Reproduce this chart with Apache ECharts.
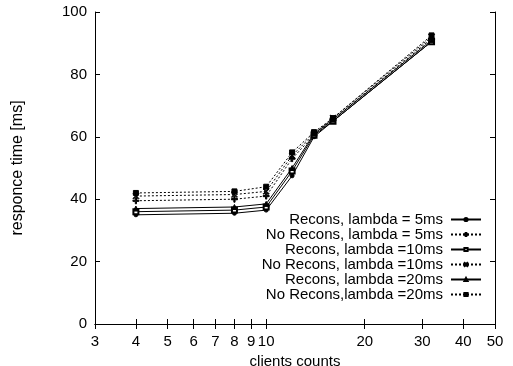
<!DOCTYPE html>
<html lang="en">
<head>
  <meta charset="UTF-8">
  <title>responce time vs clients counts</title>
  <style>
    body { margin: 0; padding: 0; background: #fff; }
    #chart { width: 513px; height: 366px; }
  </style>
</head>
<body>
  <div id="chart"></div>
  <script src="https://cdn.jsdelivr.net/npm/echarts@6/dist/echarts.min.js"></script>
  <script>
    // data
    const clients = [4, 8, 10, 12, 14, 16, 32];
    const xTicks = [3, 4, 5, 6, 7, 8, 9, 10, 20, 30, 40, 50];
    const recons5 = [35, 35.5, 36.5, 47.5, 60, 65, 90.5];
    const noRecons5 = [39.5, 40, 41, 53, 60.5, 65.5, 91.5];
    const recons10 = [36, 36.5, 37.5, 49, 60.5, 65, 90.5];
    const noRecons10 = [41, 41.5, 42.5, 54, 61, 66, 92];
    const recons20 = [37, 37.5, 38.5, 50, 61, 65.5, 91];
    const noRecons20 = [42, 42.5, 44, 55, 61.5, 66, 92.5];

    const font = "'Liberation Sans', Arial, sans-serif";
    const plusPath = 'path://M4,0H6V4H10V6H6V10H4V6H0V4H4Z';
    const crossPath = 'path://M1,0L5,4L9,0L10,1L6,5L10,9L9,10L5,6L1,10L0,9L4,5L0,1Z';

    function mk(name, vals, dotted, symbol, size) {
      return {
        name: name,
        type: 'line',
        data: clients.map((c, i) => [c, vals[i]]),
        symbol: symbol,
        symbolSize: size,
        showAllSymbol: true,
        itemStyle: { color: '#000', borderColor: '#000', borderWidth: 1 },
        lineStyle: { color: '#000', width: 1, type: dotted ? [2, 2] : 'solid' },
        emphasis: { disabled: true }
      };
    }

    const chart = echarts.init(document.getElementById('chart'));

    const xBase = {
      type: 'log',
      logBase: 10,
      min: 3,
      max: 50,
      axisLine: { lineStyle: { color: '#000', width: 1 } },
      axisTick: { inside: true, length: 5, customValues: xTicks, lineStyle: { color: '#000' } },
      axisLabel: { customValues: xTicks, color: '#000', fontSize: 15, fontFamily: font, margin: 10 },
      splitLine: { show: false }
    };
    const yBase = {
      type: 'value',
      min: 0,
      max: 100,
      interval: 20,
      axisLine: { show: true, lineStyle: { color: '#000', width: 1 } },
      axisTick: { show: true, inside: true, length: 5, lineStyle: { color: '#000' } },
      axisLabel: { color: '#000', fontSize: 15, fontFamily: font, margin: 8 },
      splitLine: { show: false }
    };

    chart.setOption({
      animation: false,
      grid: { left: 95, right: 18, top: 12, bottom: 42, containLabel: false, outerBoundsMode: 'none' },
      xAxis: [
        Object.assign({}, xBase, {
          position: 'bottom',
          name: 'clients counts',
          nameLocation: 'middle',
          nameGap: 24,
          nameTextStyle: { color: '#000', fontSize: 15, fontFamily: font }
        }),
        Object.assign({}, xBase, {
          position: 'top',
          axisLabel: { show: false }
        })
      ],
      yAxis: [
        Object.assign({}, yBase, {
          position: 'left',
          name: 'responce time [ms]',
          nameLocation: 'middle',
          nameGap: 69,
          nameTextStyle: { color: '#000', fontSize: 16, fontFamily: font }
        }),
        Object.assign({}, yBase, {
          position: 'right',
          axisLabel: { show: false }
        })
      ],
      legend: {
        orient: 'vertical',
        right: 26,
        top: 207,
        align: 'right',
        itemWidth: 30,
        itemHeight: 4,
        itemGap: 0,
        textStyle: { color: '#000', fontSize: 15, lineHeight: 15, fontFamily: font, padding: [0, 3, 0, 0] },
        data: ['Recons, lambda = 5ms', 'No Recons, lambda = 5ms', 'Recons, lambda =10ms',
               'No Recons, lambda =10ms', 'Recons, lambda =20ms', 'No Recons,lambda =20ms']
      },
      series: [
        mk('Recons, lambda = 5ms', recons5, false, 'circle', 4),
        mk('No Recons, lambda = 5ms', noRecons5, true, plusPath, 6),
        mk('Recons, lambda =10ms', recons10, false, 'emptyRect', 5),
        mk('No Recons, lambda =10ms', noRecons10, true, crossPath, 6),
        mk('Recons, lambda =20ms', recons20, false, 'triangle', 5),
        mk('No Recons,lambda =20ms', noRecons20, true, 'rect', 5)
      ]
    });
  </script>
</body>
</html>
